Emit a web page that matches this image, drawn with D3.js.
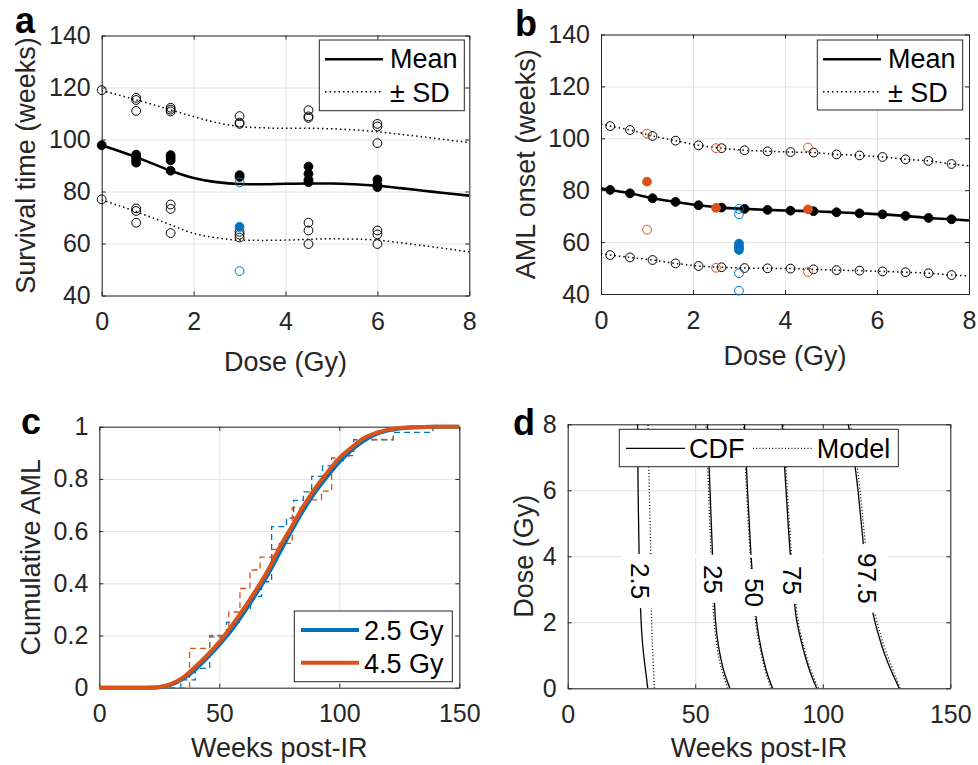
<!DOCTYPE html>
<html>
<head>
<meta charset="utf-8">
<style>
    body { margin: 0; background-color: #ffffff; }
</style>
</head>
<body>
<div class="board"></div>
<script src="https://d3js.org/d3.v7.min.js"></script>
<script>
    FONT = "'Liberation Sans', Arial, Helvetica, sans-serif"
    AX = "#262626"
    GRID = "#e2e2e2"
    BLUE = "#0072BD"
    ORANGE = "#D95319"

    // ---- panel a : survival time ----
    const aXTicks = [0, 2, 4, 6, 8]
    const aYTicks = [40, 60, 80, 100, 120, 140]
    const aDose = [0, 0.75, 1.5, 3, 4.5, 6]
    const aFilled = [[97.8], [94.2, 93.2, 92.1, 91.1], [94, 93, 92, 88], [86.3, 85.6], [89.6, 86.8, 84.5, 83.6], [84.6, 82.6, 81.7]]
    const aOpen = [[119, 77], [116, 115.2, 111, 73.5, 72.5, 68], [112.2, 111.5, 110.8, 75, 73.3, 64],
        [109, 106.5, 106, 64.5, 63.4, 62.3], [111.3, 108.9, 108.3, 68, 65, 59.8], [106, 105, 98.6, 65, 63.5, 59.8]]
    const aBlueDose = 3
    const aBlueFilled = [66.4]
    const aBlueOpen = [83.5, 49.4]
    const aCurveDose = [0, 0.5, 1, 1.5, 2, 2.5, 3, 3.5, 4, 4.5, 5, 5.5, 6, 6.5, 7, 7.5, 8]
    const aMean = [97.8, 94.8, 91.5, 88, 85.2, 83.6, 82.9, 82.8, 83, 83.1, 83.1, 82.8, 82.2, 81.3, 80.3, 79.3, 78.4]
    const aUpper = [118.8, 116.5, 114, 111.4, 108.8, 106.5, 105, 104.5, 104.3, 104.3, 104.1, 103.7, 103, 102, 101, 99.9, 98.8]
    const aLower = [76.7, 73.8, 70.6, 67.2, 63.9, 62.2, 61.3, 61.2, 61.3, 61.6, 61.8, 61.7, 61.3, 60.3, 59.2, 58, 56.8]

    // ---- panel b : AML onset ----
    const bDose = [0.2, 0.63, 1.12, 1.62, 2.12, 2.62, 3.12, 3.62, 4.12, 4.62, 5.12, 5.62, 6.12, 6.62, 7.12, 7.62]
    const bMean = [80.1, 78.8, 76.9, 75.5, 74.2, 73.3, 72.8, 72.4, 72.1, 71.9, 71.5, 71.1, 70.7, 70.1, 69.3, 68.8]
    const bUpper = [104.7, 103.2, 100.9, 99.1, 97.3, 96.2, 95.4, 95.0, 94.7, 94.5, 93.8, 93.4, 92.8, 91.9, 91.3, 90.1]
    const bLower = [55.0, 54.1, 53.1, 51.8, 50.8, 50.3, 50.0, 49.9, 49.8, 49.5, 49.2, 49.0, 48.7, 48.4, 48.0, 47.3]
    const bStart = { dose: 0, mean: 80.7, upper: 105.5, lower: 55.6 }
    const bEnd = { dose: 8, mean: 68.3, upper: 89.4, lower: 47.0 }
    const bOrangeDose = [1, 2.5, 4.5]
    const bOrangeFilled = [83.3, 73.2, 72.6]
    const bOrangeOpen = [[101.8, 64.8], [96.2, 50.1], [96.5, 48.5]]
    const bBlueDose = 3
    const bBlueFilled = [59.4, 58.2, 57.0]
    const bBlueOpen = [72.8, 70.7, 48.0, 41.3]

    // ---- panel c : cumulative AML ----
    const cXTicks = [0, 50, 100, 150]
    const cYTicks = [0, 0.2, 0.4, 0.6, 0.8, 1]
    const cWeeks = [0, 20, 25, 30, 35, 40, 45, 50, 55, 60, 65, 70, 75, 80, 85, 90, 95, 100, 105, 110, 115, 120, 125, 130, 140, 150]
    const cBlueFit = [0, 0, 0.002, 0.012, 0.035, 0.07, 0.115, 0.165, 0.22, 0.285, 0.355, 0.43, 0.515, 0.6, 0.68, 0.75, 0.81, 0.865, 0.91, 0.945, 0.97, 0.985, 0.993, 0.997, 1, 1]
    const cOrangeFit = [0, 0, 0.003, 0.015, 0.04, 0.08, 0.125, 0.175, 0.235, 0.3, 0.37, 0.445, 0.535, 0.615, 0.695, 0.765, 0.825, 0.88, 0.92, 0.955, 0.975, 0.988, 0.995, 0.998, 1, 1]
    const cBlueStepT = [0, 34, 40, 46, 53, 59, 63, 67.6, 71.8, 78, 81, 85, 88.5, 93, 98, 101.7, 106, 122.5, 139, 150]
    const cBlueStepF = [0, 0.03, 0.074, 0.195, 0.25, 0.298, 0.35, 0.406, 0.617, 0.65, 0.718, 0.75, 0.81, 0.85, 0.87, 0.889, 0.95, 0.978, 1, 1]
    const cOrangeStepT = [0, 37.6, 46, 54, 58.6, 62.8, 67, 72, 75, 80.4, 86, 92.6, 96.8, 104, 108, 122.5, 150]
    const cOrangeStepF = [0, 0.151, 0.2, 0.29, 0.38, 0.451, 0.5, 0.53, 0.553, 0.69, 0.72, 0.753, 0.88, 0.92, 0.951, 1, 1]
    const cSeries = ["2.5 Gy", "4.5 Gy"]

    // ---- panel d : contours ----
    const dYTicks = [0, 2, 4, 6, 8]
    const dDose = [0, 0.5, 1, 1.5, 2, 3, 4, 5, 6, 7, 8]
    const dLevels = ["2.5", "25", "50", "75", "97.5"]
    const dCdf = [
        [31.4, 30.6, 29.8, 29.2, 28.8, 28.3, 28.0, 27.8, 27.6, 27.5, 27.4],
        [63.6, 61.3, 59.8, 58.7, 58.0, 57.3, 56.8, 56.3, 55.8, 55.3, 54.8],
        [80.3, 78.0, 76.4, 75.1, 74.1, 72.9, 71.9, 71.2, 70.5, 69.9, 69.3],
        [97.6, 95.0, 93.0, 91.3, 89.9, 88.4, 87.3, 86.4, 85.6, 84.8, 84.1],
        [130, 127, 124.4, 122.3, 120.5, 118.0, 116.4, 115.1, 113.8, 112.2, 110.0]
    ]
    const dModel = [
        [34.0, 33.7, 33.4, 33.1, 32.9, 32.7, 32.6, 32.3, 32.0, 31.7, 31.5],
        [62.8, 60.6, 59.1, 58.1, 57.4, 56.7, 56.2, 55.7, 55.2, 54.7, 54.2],
        [79.8, 77.6, 76.0, 74.7, 73.7, 72.5, 71.6, 70.8, 70.1, 69.5, 68.9],
        [98.3, 95.6, 93.5, 91.8, 90.4, 88.9, 87.8, 86.9, 86.1, 85.3, 84.6],
        [130.3, 127.8, 125.3, 123.1, 121.3, 118.8, 117.2, 115.9, 114.6, 113.0, 110.8]
    ]
    const dLabelDose = [3.25, 3.3, 2.9, 3.27, 3.33]

    let svg = d3.select(".board")
        .append("svg")
        .attr("width", 978)
        .attr("height", 765)
        .style("font-family", FONT)

    svg.append("rect").attr("width", 978).attr("height", 765).attr("fill", "white")

    function panel(p) {
        let x = d3.scaleLinear().domain(p.xd).range([p.l, p.r])
        let y = d3.scaleLinear().domain(p.yd).range([p.b, p.t])
        let w = p.r - p.l, h = p.b - p.t
        let g = svg.append("g")

        g.append("rect").attr("x", p.l).attr("y", p.t).attr("width", w).attr("height", h).attr("fill", "white")

        let gx = g.append("g").attr("transform", "translate(0," + p.b + ")")
            .call(d3.axisBottom(x).tickValues(p.xt).tickSize(-h).tickFormat(""))
        let gy = g.append("g").attr("transform", "translate(" + p.l + ",0)")
            .call(d3.axisLeft(y).tickValues(p.yt).tickSize(-w).tickFormat(""))
        for (let s of [gx, gy]) {
            s.select(".domain").remove()
            s.selectAll("line").attr("stroke", GRID).attr("stroke-width", 1)
        }

        let TL = 4
        function styleAxis(s) {
            s.select(".domain").attr("stroke", AX).attr("stroke-width", 1)
            s.selectAll(".tick line").attr("stroke", AX)
            s.selectAll("text").attr("fill", AX).attr("font-size", 25).attr("font-family", FONT)
        }
        styleAxis(g.append("g").attr("transform", "translate(0," + p.b + ")")
            .call(d3.axisBottom(x).tickValues(p.xt).tickFormat(d => String(d)).tickSizeInner(-TL).tickSizeOuter(0).tickPadding(17)))
        styleAxis(g.append("g").attr("transform", "translate(0," + p.t + ")")
            .call(d3.axisTop(x).tickValues(p.xt).tickFormat("").tickSizeInner(-TL).tickSizeOuter(0)))
        styleAxis(g.append("g").attr("transform", "translate(" + p.l + ",0)")
            .call(d3.axisLeft(y).tickValues(p.yt).tickFormat(d => String(d)).tickSizeInner(-TL).tickSizeOuter(0).tickPadding(11)))
        styleAxis(g.append("g").attr("transform", "translate(" + p.r + ",0)")
            .call(d3.axisRight(y).tickValues(p.yt).tickFormat("").tickSizeInner(-TL).tickSizeOuter(0)))

        g.append("text")
            .attr("x", (p.l + p.r) / 2)
            .attr("y", p.xlY)
            .attr("text-anchor", "middle")
            .attr("font-size", 27)
            .attr("fill", AX)
            .text(p.xl)

        g.append("text")
            .attr("transform", "translate(" + p.ylX + "," + (p.t + p.b) / 2 + ") rotate(-90)")
            .attr("text-anchor", "middle")
            .attr("font-size", 27)
            .attr("fill", AX)
            .text(p.yl)

        let clipId = "clip-" + p.letter
        svg.append("clipPath").attr("id", clipId)
            .append("rect").attr("x", p.l).attr("y", p.t).attr("width", w).attr("height", h)

        let clipped = g.append("g").attr("clip-path", "url(#" + clipId + ")")
        let free = g.append("g")

        g.append("text")
            .attr("x", p.lx)
            .attr("y", p.ly)
            .attr("font-size", 36)
            .attr("font-weight", "bold")
            .attr("fill", "black")
            .text(p.letter)

        return { x: x, y: y, g: g, clipped: clipped, free: free }
    }

    function legendBox(g, box, items) {
        let lg = g.append("g")
        lg.append("rect")
            .attr("x", box[0]).attr("y", box[1])
            .attr("width", box[2] - box[0]).attr("height", box[3] - box[1])
            .attr("fill", "white").attr("stroke", AX).attr("stroke-width", 1)
        items.forEach(it => {
            lg.append("line")
                .attr("x1", it.x1).attr("x2", it.x2).attr("y1", it.ly).attr("y2", it.ly)
                .attr("stroke", it.color).attr("stroke-width", it.width)
                .attr("stroke-dasharray", it.dash || null)
            lg.append("text")
                .attr("x", it.tx).attr("y", it.ty)
                .attr("font-size", 27).attr("fill", "black")
                .text(it.label)
        })
    }

    function circles(layer, pts, r, fill, stroke) {
        layer.selectAll(null)
            .data(pts)
            .enter()
            .append("circle")
            .attr("cx", d => d.px)
            .attr("cy", d => d.py)
            .attr("r", r)
            .attr("fill", fill)
            .attr("stroke", stroke)
            .attr("stroke-width", 1)
    }

    // ================= panel a =================
    let A = panel({ l: 101.7, r: 469.3, t: 35.5, b: 295.5, xd: [0, 8], yd: [40, 140], xt: aXTicks, yt: aYTicks,
        xl: "Dose (Gy)", yl: "Survival time (weeks)", xlY: 370.5, ylX: 35, letter: "a", lx: 15, ly: 33 })

    let aLine = d3.line().x(d => A.x(d[0])).y(d => A.y(d[1])).curve(d3.curveMonotoneX)
    A.clipped.append("path").datum(d3.zip(aCurveDose, aMean)).attr("d", aLine)
        .attr("fill", "none").attr("stroke", "black").attr("stroke-width", 2.6)
    for (let arr of [aUpper, aLower]) {
        A.clipped.append("path").datum(d3.zip(aCurveDose, arr)).attr("d", aLine)
            .attr("fill", "none").attr("stroke", "black").attr("stroke-width", 1.5).attr("stroke-dasharray", "1.5,3")
    }
    let aOpenPts = [], aFilledPts = []
    aDose.forEach((d, i) => {
        aOpen[i].forEach(v => aOpenPts.push({ px: A.x(d), py: A.y(v) }))
        aFilled[i].forEach(v => aFilledPts.push({ px: A.x(d), py: A.y(v) }))
    })
    circles(A.free, aOpenPts, 4.4, "none", "black")
    circles(A.free, aFilledPts, 4.4, "black", "black")
    circles(A.free, aBlueOpen.map(v => ({ px: A.x(aBlueDose), py: A.y(v) })), 4.4, "none", BLUE)
    circles(A.free, aBlueFilled.map(v => ({ px: A.x(aBlueDose), py: A.y(v) })), 4.4, BLUE, BLUE)

    legendBox(A.g, [319.3, 40, 464.3, 110.7], [
        { x1: 325, x2: 383, ly: 59.3, color: "black", width: 2.6, tx: 390, ty: 68.3, label: "Mean" },
        { x1: 325, x2: 383, ly: 91.7, color: "black", width: 1.5, dash: "1.5,3", tx: 390, ty: 101.7, label: "± SD" }
    ])

    // ================= panel b =================
    let B = panel({ l: 601, r: 969, t: 34.5, b: 294, xd: [0, 8], yd: [40, 140], xt: aXTicks, yt: aYTicks,
        xl: "Dose (Gy)", yl: "AML onset (weeks)", xlY: 364.5, ylX: 535, letter: "b", lx: 515, ly: 36 })

    let bLine = d3.line().x(d => B.x(d[0])).y(d => B.y(d[1])).curve(d3.curveMonotoneX)
    let bLineDose = [bStart.dose].concat(bDose, [bEnd.dose])
    B.clipped.append("path").datum(d3.zip(bLineDose, [bStart.mean].concat(bMean, [bEnd.mean]))).attr("d", bLine)
        .attr("fill", "none").attr("stroke", "black").attr("stroke-width", 2.6)
    B.clipped.append("path").datum(d3.zip(bLineDose, [bStart.upper].concat(bUpper, [bEnd.upper]))).attr("d", bLine)
        .attr("fill", "none").attr("stroke", "black").attr("stroke-width", 1.5).attr("stroke-dasharray", "1.5,3")
    B.clipped.append("path").datum(d3.zip(bLineDose, [bStart.lower].concat(bLower, [bEnd.lower]))).attr("d", bLine)
        .attr("fill", "none").attr("stroke", "black").attr("stroke-width", 1.5).attr("stroke-dasharray", "1.5,3")

    circles(B.free, bDose.map((d, i) => ({ px: B.x(d), py: B.y(bUpper[i]) })), 4.4, "none", "black")
    circles(B.free, bDose.map((d, i) => ({ px: B.x(d), py: B.y(bLower[i]) })), 4.4, "none", "black")
    circles(B.free, bDose.map((d, i) => ({ px: B.x(d), py: B.y(bMean[i]) })), 4.4, "black", "black")

    let bOrOpen = []
    bOrangeDose.forEach((d, i) => bOrangeOpen[i].forEach(v => bOrOpen.push({ px: B.x(d), py: B.y(v) })))
    circles(B.free, bOrOpen, 4.4, "none", ORANGE)
    circles(B.free, bOrangeDose.map((d, i) => ({ px: B.x(d), py: B.y(bOrangeFilled[i]) })), 4.4, ORANGE, ORANGE)
    circles(B.free, bBlueOpen.map(v => ({ px: B.x(bBlueDose), py: B.y(v) })), 4.4, "none", BLUE)
    circles(B.free, bBlueFilled.map(v => ({ px: B.x(bBlueDose), py: B.y(v) })), 4.4, BLUE, BLUE)

    legendBox(B.g, [817.3, 40, 962.7, 110], [
        { x1: 823, x2: 881, ly: 59.3, color: "black", width: 2.6, tx: 888, ty: 68.3, label: "Mean" },
        { x1: 823, x2: 881, ly: 91.7, color: "black", width: 1.5, dash: "1.5,3", tx: 888, ty: 101.7, label: "± SD" }
    ])

    // ================= panel c =================
    let C = panel({ l: 99.3, r: 459.3, t: 426.7, b: 687.7, xd: [0, 150], yd: [0, 1], xt: cXTicks, yt: cYTicks,
        xl: "Weeks post-IR", yl: "Cumulative AML", xlY: 757, ylX: 40, letter: "c", lx: 21, ly: 434 })

    let cStep = d3.line().x(d => C.x(d[0])).y(d => C.y(d[1])).curve(d3.curveStepAfter)
    let cSmooth = d3.line().x(d => C.x(d[0])).y(d => C.y(d[1])).curve(d3.curveMonotoneX)
    C.clipped.append("path").datum(d3.zip(cBlueStepT, cBlueStepF)).attr("d", cStep)
        .attr("fill", "none").attr("stroke", BLUE).attr("stroke-width", 1.3).attr("stroke-dasharray", "6,4")
    C.clipped.append("path").datum(d3.zip(cOrangeStepT, cOrangeStepF)).attr("d", cStep)
        .attr("fill", "none").attr("stroke", ORANGE).attr("stroke-width", 1.3).attr("stroke-dasharray", "6,4")
    C.free.append("path").datum(d3.zip(cWeeks, cBlueFit)).attr("d", cSmooth)
        .attr("fill", "none").attr("stroke", BLUE).attr("stroke-width", 4)
    C.free.append("path").datum(d3.zip(cWeeks, cOrangeFit)).attr("d", cSmooth)
        .attr("fill", "none").attr("stroke", ORANGE).attr("stroke-width", 4)

    legendBox(C.g, [294.3, 611, 452.3, 681.7], [
        { x1: 301, x2: 359, ly: 630, color: BLUE, width: 4, tx: 364, ty: 640, label: cSeries[0] },
        { x1: 301, x2: 359, ly: 662.7, color: ORANGE, width: 4, tx: 364, ty: 673.3, label: cSeries[1] }
    ])

    // ================= panel d =================
    let D = panel({ l: 567.7, r: 950.3, t: 424.3, b: 688.3, xd: [0, 150], yd: [0, 8], xt: cXTicks, yt: dYTicks,
        xl: "Weeks post-IR", yl: "Dose (Gy)", xlY: 757, ylX: 532.7, letter: "d", lx: 513, ly: 435 })

    let dLine = d3.line().x(d => D.x(d[0])).y(d => D.y(d[1])).curve(d3.curveMonotoneY)
    dModel.forEach(arr => {
        D.clipped.append("path").datum(d3.zip(arr, dDose)).attr("d", dLine)
            .attr("fill", "none").attr("stroke", "black").attr("stroke-width", 1.3).attr("stroke-dasharray", "1,2.2")
    })
    dCdf.forEach(arr => {
        D.clipped.append("path").datum(d3.zip(arr, dDose)).attr("d", dLine)
            .attr("fill", "none").attr("stroke", "black").attr("stroke-width", 1.3)
    })

    function weekAt(arr, dose) {
        let i = d3.bisectLeft(dDose, dose)
        let t = (dose - dDose[i - 1]) / (dDose[i] - dDose[i - 1])
        return arr[i - 1] + t * (arr[i] - arr[i - 1])
    }

    let labelPos = dLevels.map((lev, i) => ({ lev: lev, px: D.x(weekAt(dCdf[i], dLabelDose[i])), py: D.y(dLabelDose[i]) }))

    // clabel backgrounds also hide the grid line running through the labels
    D.free.append("rect")
        .attr("x", labelPos[0].px - 18)
        .attr("y", D.y(4) - 1.5)
        .attr("width", labelPos[labelPos.length - 1].px + 20 - (labelPos[0].px - 18))
        .attr("height", 3)
        .attr("fill", "white")

    labelPos.forEach(lp => {
        let lg = D.free.append("g").attr("transform", "translate(" + lp.px + "," + lp.py + ") rotate(90)")
        let bg = lg.append("rect").attr("fill", "white")
        let t = lg.append("text")
            .attr("text-anchor", "middle")
            .attr("dy", "0.35em")
            .attr("font-size", 26)
            .attr("fill", "black")
            .text(lp.lev)
        let len = t.node().getComputedTextLength()
        bg.attr("x", -len / 2 - 9).attr("y", -13).attr("width", len + 18).attr("height", 26)
    })

    let dl = D.g.append("g")
    dl.append("rect")
        .attr("x", 619.3).attr("y", 429.3).attr("width", 898.3 - 619.3).attr("height", 466.7 - 429.3)
        .attr("fill", "white").attr("stroke", AX).attr("stroke-width", 1)
    dl.append("line").attr("x1", 626).attr("x2", 685).attr("y1", 448.3).attr("y2", 448.3)
        .attr("stroke", "black").attr("stroke-width", 1.3)
    dl.append("text").attr("x", 689).attr("y", 458.3).attr("font-size", 27).text("CDF")
    dl.append("line").attr("x1", 753).attr("x2", 812).attr("y1", 448.3).attr("y2", 448.3)
        .attr("stroke", "black").attr("stroke-width", 1.3).attr("stroke-dasharray", "1,2.2")
    dl.append("text").attr("x", 816.7).attr("y", 458.3).attr("font-size", 27).text("Model")
</script>
</body>
</html>
